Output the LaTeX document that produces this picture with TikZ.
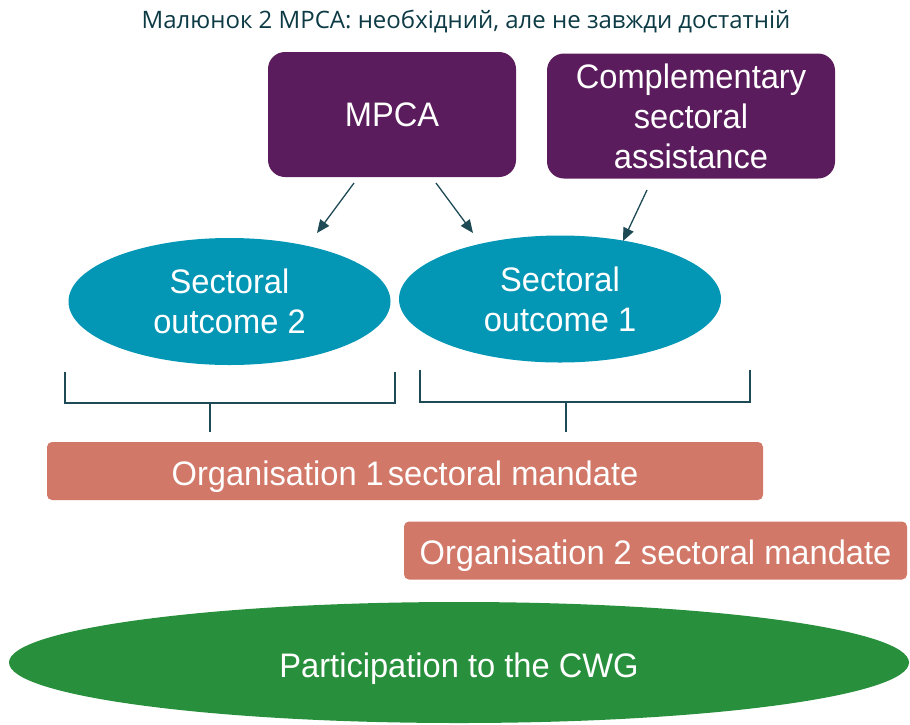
\documentclass[tikz,border=0pt]{standalone}
\usepackage{fontspec}
\setmainfont[FakeStretch=0.96]{Liberation Sans}
\newfontfamily\titlefont{Open Sans}
\usetikzlibrary{arrows.meta,shapes.geometric}
\definecolor{mpcapurple}{HTML}{5A1C5C}
\definecolor{outcometeal}{HTML}{0396B5}
\definecolor{mandatered}{HTML}{D27868}
\definecolor{cwggreen}{HTML}{28903C}
\definecolor{linkteal}{HTML}{1D4A54}
\definecolor{titleteal}{HTML}{0D3B45}
\begin{document}
\begin{tikzpicture}[x=1pt,y=-1pt,
    bigfont/.style={font=\fontsize{34}{40}\selectfont},
    assist/.style={bigfont,fill=mpcapurple,text=white,rounded corners=17pt,align=center,inner sep=0pt,minimum height=125pt},
    outcome/.style={bigfont,ellipse,fill=outcometeal,text=white,align=center,inner sep=0pt,minimum width=322pt,minimum height=127pt},
    mandate/.style={bigfont,fill=mandatered,text=white,rounded corners=5pt,inner sep=0pt,minimum height=58pt,text height=28pt,text depth=0pt},
    link/.style={draw=linkteal,line width=1.3pt,-{Triangle[length=13pt,width=11pt]}},
    bracket/.style={draw=linkteal,line width=1.3pt}]
    \useasboundingbox (0,0) rectangle (910,724);
    % title
    \node[font=\titlefont\fontsize{24}{28}\selectfont,text=titleteal] (title) at (466,22) {Малюнок 2 MPCA: необхідний, але не завжди достатній};
    % assistance boxes
    \node[assist,minimum width=248pt] (mpca) at (392,114.5) {MPCA};
    \node[assist,minimum width=288pt] (comp) at (691,116) {Complementary\\sectoral\\assistance};
    % sectoral outcomes
    \node[outcome] (out2) at (229.5,301.5) {Sectoral\\outcome 2};
    \node[outcome] (out1) at (560,299) {Sectoral\\outcome 1};
    % arrows
    \coordinate (mpcaleft) at (354,183);
    \coordinate (mpcaright) at (436,183);
    \coordinate (compdown) at (647,190);
    \coordinate (out2top) at (317,233);
    \coordinate (out1left) at (473,233);
    \coordinate (out1right) at (623,241);
    \draw[link] (mpcaleft) -- (out2top);
    \draw[link] (mpcaright) -- (out1left);
    \draw[link] (compdown) -- (out1right);
    % brackets
    \draw[bracket] (65,372) -- (65,403) -- (395,403) -- (395,372);
    \draw[bracket] (210,403) -- (210,432);
    \draw[bracket] (420,370) -- (420,402) -- (750,402) -- (750,370);
    \draw[bracket] (566,402) -- (566,432);
    % mandates
    \node[mandate,minimum width=716pt] (org1) at (405,471) {Organisation 1\kern4pt sectoral mandate};
    \node[mandate,minimum width=503pt] (org2) at (655.5,550.5) {Organisation 2 sectoral mandate};
    % cwg
    \node[bigfont,ellipse,fill=cwggreen,text=white,inner sep=0pt,minimum width=900pt,minimum height=121pt,text height=29pt,text depth=0pt] (cwg) at (459,662.5) {Participation to the CWG};
\end{tikzpicture}
\end{document}
